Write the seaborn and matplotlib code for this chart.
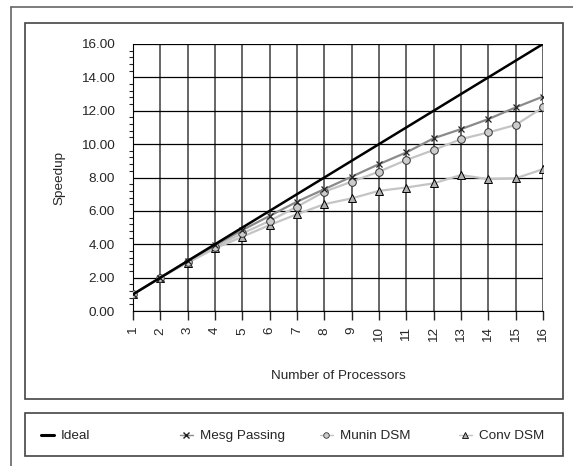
import numpy as np
import pandas as pd
import seaborn as sns
from matplotlib import pyplot as plt
from matplotlib.patches import Rectangle
from matplotlib.lines import Line2D
from matplotlib.ticker import MultipleLocator, FormatStrFormatter

procs = list(range(1, 17))
ideal = [1, 2, 3, 4, 5, 6, 7, 8, 9, 10, 11, 12, 13, 14, 15, 16]
mesg = [1.0, 2.0, 3.0, 3.95, 4.85, 5.7, 6.55, 7.3, 8.05, 8.8, 9.5, 10.35, 10.9, 11.5, 12.2, 12.85]
munin = [1.0, 2.0, 2.95, 3.85, 4.65, 5.4, 6.25, 7.15, 7.75, 8.35, 9.05, 9.65, 10.3, 10.7, 11.15, 12.2]
conv = [1.0, 2.0, 2.9, 3.75, 4.45, 5.15, 5.8, 6.4, 6.75, 7.2, 7.4, 7.65, 8.15, 7.9, 7.95, 8.5]
names = ["Ideal", "Mesg Passing", "Munin DSM", "Conv DSM"]

sns.set_style("white")
plt.rcParams['font.family'] = ['Liberation Sans', 'DejaVu Sans']
FS = 9.7

fig = plt.figure(figsize=(5.73, 4.66), dpi=100)
ax = fig.add_axes([133 / 573, 1 - 311 / 466, 410 / 573, 267 / 466])

df = pd.DataFrame({"procs": procs, names[0]: ideal, names[1]: mesg,
                   names[2]: munin, names[3]: conv})

# grid first so lines sit on top
for x in procs:
    ax.axvline(x, color="#5a5a5a", lw=1.3, zorder=0)
for y in range(0, 17, 2):
    ax.axhline(y, color="black", lw=0.9, zorder=0)

sns.lineplot(data=df, x="procs", y="Conv DSM", ax=ax, color="#c4c4c4", lw=1.6,
             marker="^", markersize=6, markerfacecolor="#b0b0b0",
             markeredgecolor="black", markeredgewidth=0.7, zorder=3)
sns.lineplot(data=df, x="procs", y="Munin DSM", ax=ax, color="#c4c4c4", lw=1.6,
             marker="o", markersize=5.5, markerfacecolor="#cccccc",
             markeredgecolor="#333333", markeredgewidth=0.7, zorder=4)
sns.lineplot(data=df, x="procs", y="Mesg Passing", ax=ax, color="#8a8a8a", lw=1.6,
             marker="x", markersize=5, markeredgecolor="#222222",
             markeredgewidth=0.9, zorder=5)
sns.lineplot(data=df, x="procs", y="Ideal", ax=ax, color="black", lw=1.8, zorder=6)

ax.set_xlim(1, 16)
ax.set_ylim(0, 16)
ax.set_xticks(procs)
ax.set_xticklabels([str(p) for p in procs], rotation=90, fontsize=FS)
ax.yaxis.set_major_locator(MultipleLocator(2))
ax.yaxis.set_minor_locator(MultipleLocator(0.4))
ax.yaxis.set_major_formatter(FormatStrFormatter("%.2f"))
ax.tick_params(axis="y", which="major", length=7, width=1, labelsize=FS, pad=6)
ax.tick_params(axis="y", which="minor", length=3, width=0.8, left=True)
ax.tick_params(axis="x", which="major", length=6.5, width=1, bottom=True, pad=5)
for s in ax.spines.values():
    s.set_visible(False)
ax.spines["left"].set_visible(True)
ax.spines["left"].set_color("black")
ax.spines["bottom"].set_visible(True)
ax.spines["bottom"].set_color("black")

ax.set_xlabel("Number of Processors", fontsize=FS, labelpad=20)
ax.set_ylabel("Speedup", fontsize=FS, labelpad=11)

# frames
fig.add_artist(Line2D([11 / 573, 1], [1 - 7 / 466, 1 - 7 / 466], color="#666666", lw=1.2))
fig.add_artist(Line2D([11 / 573, 11 / 573], [0, 1 - 7 / 466], color="#666666", lw=1.2))
fig.add_artist(Rectangle((25 / 573, 1 - 399 / 466), 538 / 573, 376 / 466,
                         fill=False, ec="#444444", lw=1.2))
fig.add_artist(Rectangle((25 / 573, 1 - 456 / 466), 538 / 573, 43 / 466,
                         fill=False, ec="#444444", lw=1.2))

handles = [
    Line2D([], [], color="black", lw=2.2),
    Line2D([], [], color="#8a8a8a", lw=1, marker="x", markersize=4, markeredgecolor="#222222"),
    Line2D([], [], color="#c4c4c4", lw=1, marker="o", markersize=4, markerfacecolor="#cccccc",
           markeredgecolor="#333333", markeredgewidth=0.6),
    Line2D([], [], color="#c4c4c4", lw=1, marker="^", markersize=4, markerfacecolor="#b0b0b0",
           markeredgecolor="black", markeredgewidth=0.6),
]
starts = [41, 180, 320, 459]
for h, name, x0 in zip(handles, names, starts):
    fig.legend([h], [name], loc="center left",
               bbox_to_anchor=(x0 / 573, 1 - 436 / 466),
               frameon=False, fontsize=FS, borderpad=0, borderaxespad=0,
               handlelength=0.93, handletextpad=0.55)

fig.savefig("out.png", dpi=100)
